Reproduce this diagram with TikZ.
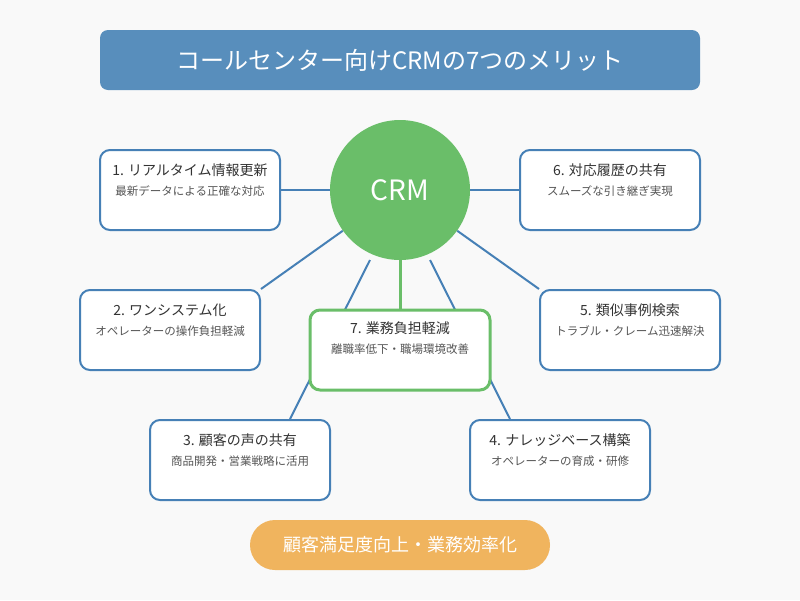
\documentclass[tikz,border=0pt]{standalone}
\usepackage{fontspec}
\setmainfont{Noto Sans CJK JP}
\usetikzlibrary{calc,positioning,backgrounds}
\definecolor{barblue}{RGB}{88,142,188}
\definecolor{lineblue}{RGB}{70,128,182}
\definecolor{crmgreen}{RGB}{106,190,105}
\definecolor{pillorange}{RGB}{240,180,94}
\definecolor{headgray}{RGB}{51,51,51}
\definecolor{subgray}{RGB}{85,85,85}
\definecolor{bggray}{RGB}{249,249,249}

\begin{document}
\begin{tikzpicture}[x=1pt,y=-1pt,
  merit/.style={draw=lineblue,line width=2pt,fill=white,rounded corners=10pt,minimum width=180pt,minimum height=80pt},
  head/.style={text=headgray,font=\fontsize{14}{16}\selectfont},
  sub/.style={text=subgray,font=\fontsize{11.5}{13}\selectfont},
  link/.style={draw=lineblue,line width=2pt}]
\useasboundingbox (0,0) rectangle (800,600);
\node[fill=barblue,rounded corners=8pt,minimum width=600pt,minimum height=60pt,text=white,font=\fontsize{24}{28}\selectfont] (title) at (400,60) {コールセンター向けCRMの7つのメリット};
\node[circle,fill=crmgreen,minimum size=140pt,text=white,font=\fontsize{28}{32}\selectfont] (crm) at (400,190) {CRM};

\node[merit] (b1) at (190,190) {};
\node[head] at ($(b1.north)+(0,21)$) {1. リアルタイム情報更新};
\node[sub] at ($(b1.north)+(0,42)$) {最新データによる正確な対応};
\node[merit] (b6) at (610,190) {};
\node[head] at ($(b6.north)+(0,21)$) {6. 対応履歴の共有};
\node[sub] at ($(b6.north)+(0,42)$) {スムーズな引き継ぎ実現};
\node[merit] (b2) at (170,330) {};
\node[head] at ($(b2.north)+(0,21)$) {2. ワンシステム化};
\node[sub] at ($(b2.north)+(0,42)$) {オペレーターの操作負担軽減};
\node[merit] (b5) at (630,330) {};
\node[head] at ($(b5.north)+(0,21)$) {5. 類似事例検索};
\node[sub] at ($(b5.north)+(0,42)$) {トラブル・クレーム迅速解決};
\node[merit] (b3) at (240,460) {};
\node[head] at ($(b3.north)+(0,21)$) {3. 顧客の声の共有};
\node[sub] at ($(b3.north)+(0,42)$) {商品開発・営業戦略に活用};
\node[merit] (b4) at (560,460) {};
\node[head] at ($(b4.north)+(0,21)$) {4. ナレッジベース構築};
\node[sub] at ($(b4.north)+(0,42)$) {オペレーターの育成・研修};
\node[merit,draw=crmgreen,line width=3pt] (b7) at (400,350) {};
\node[head] at ($(b7.north)+(0,20)$) {7. 業務負担軽減};
\node[sub] at ($(b7.north)+(0,41)$) {離職率低下・職場環境改善};

\node[fill=pillorange,rounded corners=25pt,minimum width=300pt,minimum height=50pt,text=white,font=\fontsize{18}{21}\selectfont] (goal) at (400,545) {顧客満足度向上・業務効率化};

\begin{scope}[on background layer]
\fill[bggray] (0,0) rectangle (800,600);
\coordinate (c3) at (370,260);
\coordinate (c4) at (430,260);
\path[link] (b1) -- (crm);
\path[link] (b6) -- (crm);
\path[link] (crm) -- (b2.north east);
\path[link] (crm) -- (b5.north west);
\path[link] (c3) -- ($(b3.north)+(50,0)$);
\path[link] (c4) -- ($(b4.north)+(-50,0)$);
\path[draw=crmgreen,line width=3pt] (crm) -- (b7);
\end{scope}
\end{tikzpicture}
\end{document}
